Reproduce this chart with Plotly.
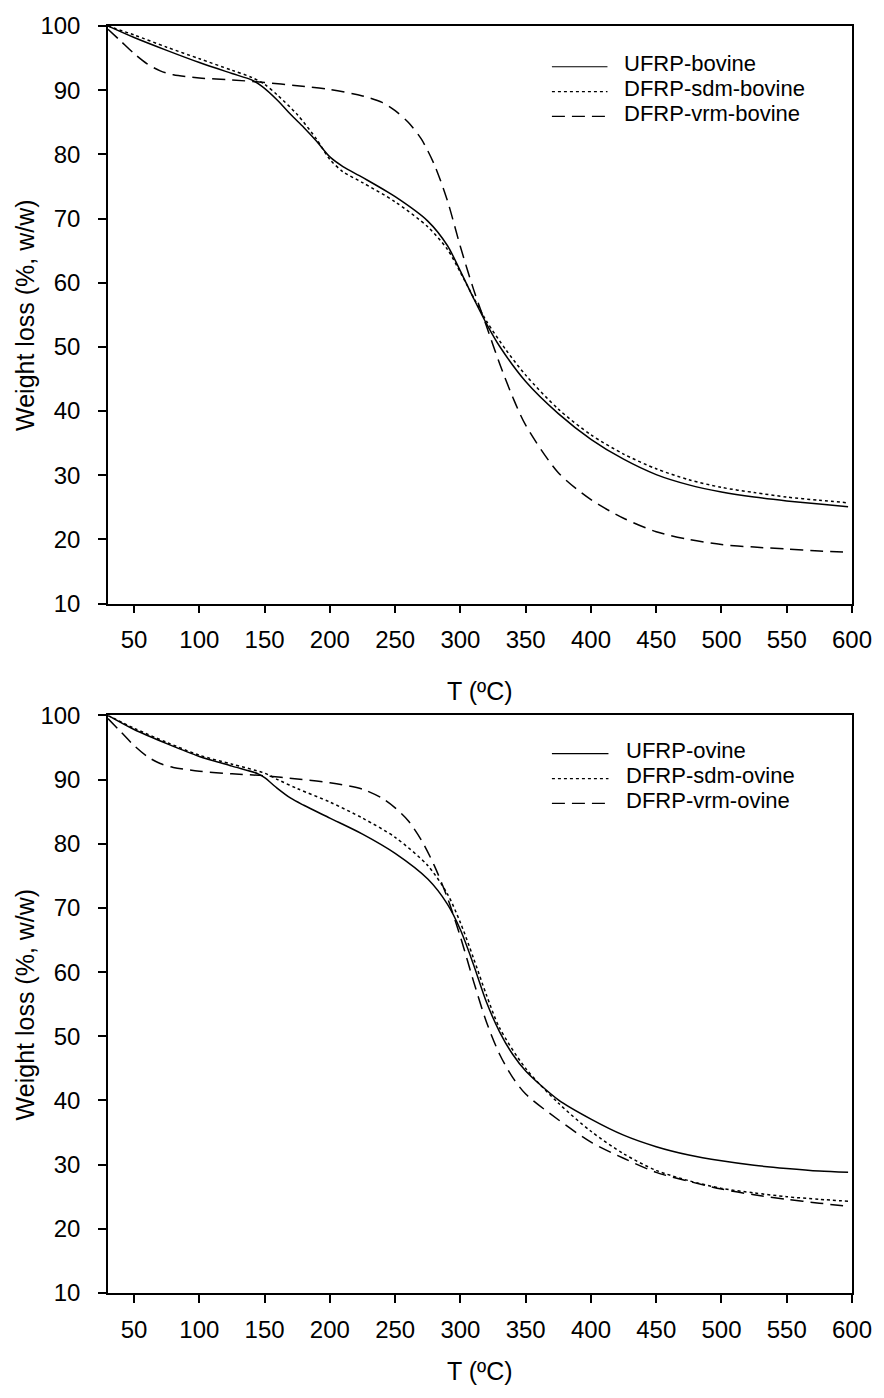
import plotly.graph_objects as go

# ---------------- data ----------------
T_ticks = [50, 100, 150, 200, 250, 300, 350, 400, 450, 500, 550, 600]
W_ticks = [10, 20, 30, 40, 50, 60, 70, 80, 90, 100]

# Bovine
T_ufrp_bov = [30, 50, 75, 100, 125, 140, 148, 160, 170, 180, 190, 200, 210, 225, 250, 275, 290, 300, 310, 320, 330, 350, 375, 400, 425, 450, 475, 500, 525, 550, 575, 597]
W_ufrp_bov = [100, 98.2, 96.2, 94.3, 92.6, 91.6, 90.6, 88.4, 86.2, 84.2, 82.0, 79.6, 78.1, 76.4, 73.4, 69.6, 65.8, 61.8, 57.6, 53.6, 50.1, 44.6, 39.6, 35.6, 32.5, 30.1, 28.5, 27.4, 26.6, 26.0, 25.5, 25.1]

T_sdm_bov = [30, 50, 75, 100, 125, 140, 150, 160, 175, 190, 200, 210, 225, 250, 275, 290, 300, 310, 320, 335, 350, 375, 400, 425, 450, 475, 500, 525, 550, 575, 597]
W_sdm_bov = [100, 98.6, 96.7, 94.9, 93.1, 92.0, 90.9, 89.2, 86.2, 82.3, 79.2, 77.3, 75.6, 72.6, 68.7, 65.2, 61.6, 57.7, 54.0, 49.5, 45.6, 40.3, 36.3, 33.3, 31.0, 29.3, 28.1, 27.3, 26.6, 26.1, 25.7]

T_vrm_bov = [30, 40, 50, 60, 70, 80, 100, 125, 150, 175, 200, 225, 240, 250, 260, 270, 280, 290, 300, 310, 320, 330, 340, 350, 375, 400, 425, 450, 475, 500, 525, 550, 575, 597]
W_vrm_bov = [99.5, 97.6, 95.7, 94.1, 93.0, 92.4, 91.9, 91.6, 91.2, 90.7, 90.1, 89.1, 88.1, 86.8, 85.0, 82.4, 78.4, 72.8, 65.6, 59.0, 53.2, 47.4, 42.2, 37.8, 30.4, 26.2, 23.3, 21.2, 20.0, 19.2, 18.8, 18.5, 18.2, 18.0]

# Ovine
T_ufrp_ov = [30, 50, 75, 100, 125, 145, 150, 160, 170, 180, 200, 225, 250, 275, 290, 300, 310, 320, 330, 340, 350, 375, 400, 425, 450, 475, 500, 525, 550, 575, 597]
W_ufrp_ov = [100, 97.8, 95.6, 93.6, 92.1, 90.9, 90.3, 88.6, 87.1, 86.0, 84.0, 81.5, 78.5, 74.5, 70.6, 66.6, 61.2, 55.3, 50.7, 47.2, 44.6, 40.1, 37.1, 34.6, 32.8, 31.5, 30.6, 29.9, 29.4, 29.0, 28.8]

T_sdm_ov = [30, 50, 75, 100, 125, 150, 160, 175, 200, 225, 250, 275, 290, 300, 310, 320, 330, 350, 375, 400, 425, 450, 475, 500, 525, 550, 575, 597]
W_sdm_ov = [100, 98.0, 95.8, 93.8, 92.4, 91.0, 90.0, 88.6, 86.5, 84.0, 81.0, 76.6, 72.2, 67.7, 62.2, 56.4, 51.3, 45.0, 39.6, 35.2, 31.7, 29.1, 27.5, 26.3, 25.6, 25.0, 24.6, 24.3]

T_vrm_ov = [30, 40, 50, 60, 70, 80, 100, 125, 150, 175, 200, 225, 240, 250, 260, 270, 280, 290, 300, 310, 320, 330, 340, 350, 375, 400, 425, 450, 475, 500, 525, 550, 575, 597]
W_vrm_ov = [99.5, 97.4, 95.3, 93.6, 92.5, 91.9, 91.3, 90.9, 90.6, 90.1, 89.5, 88.5, 87.1, 85.6, 83.6, 80.6, 76.6, 71.6, 65.5, 58.6, 52.2, 47.2, 43.6, 41.0, 37.0, 33.5, 31.0, 28.8, 27.4, 26.2, 25.3, 24.6, 24.0, 23.5]

names_bov = ["UFRP-bovine", "DFRP-sdm-bovine", "DFRP-vrm-bovine"]
names_ov = ["UFRP-ovine", "DFRP-sdm-ovine", "DFRP-vrm-ovine"]
dashes = ["solid", "dot", "13px,7px"]

# ---------------- layout geometry ----------------
W, H = 884, 1398
L, R = 107.5, 857.5
TOP1, BOT1 = 19.0, 600.0
TOP2, BOT2 = 712.5, 1293.5
FONT = "Liberation Sans, Arial, sans-serif"
FS_TICK = 24
FS_TEXT = 25
FS_LEG = 22

mt, mb = TOP1, H - BOT2
ph = BOT2 - TOP1


def py(ypx):
    return (BOT2 - ypx) / ph


def px(xpx):
    return (xpx - L) / (R - L)


fig = go.Figure()

sets = [
    ("x", "y", [(T_ufrp_bov, W_ufrp_bov), (T_sdm_bov, W_sdm_bov), (T_vrm_bov, W_vrm_bov)], names_bov),
    ("x2", "y2", [(T_ufrp_ov, W_ufrp_ov), (T_sdm_ov, W_sdm_ov), (T_vrm_ov, W_vrm_ov)], names_ov),
]
for xa, ya, series, names in sets:
    for (tx, wy), nm, ds in zip(series, names, dashes):
        fig.add_trace(go.Scatter(
            x=tx, y=wy, mode="lines", name=nm, xaxis=xa, yaxis=ya,
            line=dict(color="black", width=1.5, dash=ds, shape="spline", smoothing=0.8),
            showlegend=False,
        ))

axis_common = dict(
    showline=True, linecolor="black", linewidth=1.5, mirror=True,
    ticks="outside", ticklen=8, tickwidth=1.5, tickcolor="black",
    showgrid=False, zeroline=False,
    tickfont=dict(family=FONT, size=FS_TICK, color="black"),
)

fig.update_layout(
    width=W, height=H,
    margin=dict(l=L, r=W - R, t=mt, b=mb),
    paper_bgcolor="white", plot_bgcolor="white",
    showlegend=False,
    xaxis=dict(domain=[0, 1], range=[30, 600], tickvals=T_ticks, anchor="y", ticklabelstandoff=6, **axis_common),
    yaxis=dict(domain=[py(BOT1), 1], range=[10, 100], tickvals=W_ticks, anchor="x", ticklabelstandoff=13, **axis_common),
    xaxis2=dict(domain=[0, 1], range=[30, 600], tickvals=T_ticks, anchor="y2", ticklabelstandoff=6, **axis_common),
    yaxis2=dict(domain=[0, py(TOP2)], range=[10, 100], tickvals=W_ticks, anchor="x2", ticklabelstandoff=13, **axis_common),
)

ann_font = dict(family=FONT, size=FS_TEXT, color="black")
leg_font = dict(family=FONT, size=FS_LEG, color="black")
annotations = []
# axis titles
for ycen_title, top, bot in [(688, TOP1, BOT1), (1372, TOP2, BOT2)]:
    annotations.append(dict(text="T (ºC)", x=0.5, y=py(ycen_title), xref="paper", yref="paper",
                            showarrow=False, xanchor="center", yanchor="middle", font=ann_font))
    annotations.append(dict(text="Weight loss (%, w/w)", x=px(24), y=py((top + bot) / 2), xref="paper", yref="paper",
                            showarrow=False, xanchor="center", yanchor="middle", textangle=-90, font=ann_font))

# manual legends
shapes = []
leg_rows = [
    (names_bov, [57, 82, 107], 555, 611, 626),
    (names_ov, [748, 773, 798], 555, 612, 628),
]
for names, ys, x0, x1, xt in leg_rows:
    for nm, yc, ds in zip(names, ys, dashes):
        shapes.append(dict(type="line", xref="paper", yref="paper", x0=px(x0), x1=px(x1),
                           y0=py(yc + 3), y1=py(yc + 3), line=dict(color="black", width=1.2, dash=ds)))
        annotations.append(dict(text=nm, x=px(xt), y=py(yc), xref="paper", yref="paper", showarrow=False,
                                xanchor="left", yanchor="middle", font=leg_font))

fig.update_layout(annotations=annotations, shapes=shapes)

fig.write_html("out.html")
